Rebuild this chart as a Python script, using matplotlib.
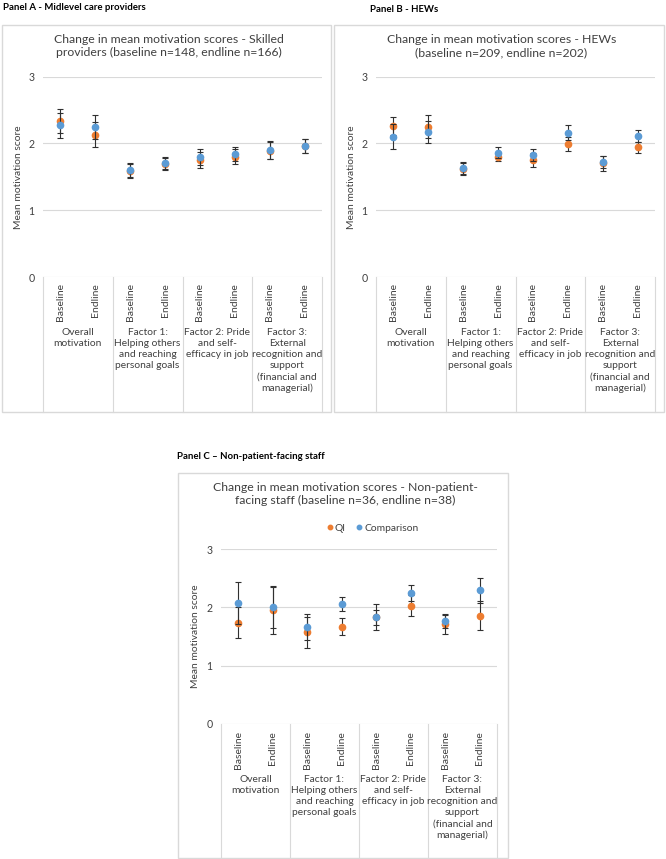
import numpy as np
import matplotlib
matplotlib.use("Agg")
import matplotlib.pyplot as plt
from matplotlib.patches import Rectangle
from matplotlib.lines import Line2D
from matplotlib.transforms import blended_transform_factory

plt.rcParams["font.family"] = ["Lato", "DejaVu Sans"]

W, H = 666, 859

timepoints = ["Baseline", "Endline"] * 4
groups = ["Overall\nmotivation",
          "Factor 1:\nHelping others\nand reaching\npersonal goals",
          "Factor 2: Pride\nand self-\nefficacy in job",
          "Factor 3:\nExternal\nrecognition and\nsupport\n(financial and\nmanagerial)"]

# Panel A - skilled providers
qi_a = [2.33, 2.13, 1.59, 1.69, 1.75, 1.80, 1.89, 1.96]
qi_a_err = [0.18, 0.19, 0.10, 0.09, 0.12, 0.11, 0.13, 0.11]
comp_a = [2.27, 2.24, 1.60, 1.71, 1.79, 1.84, 1.90, 1.96]
comp_a_err = [0.19, 0.18, 0.10, 0.09, 0.12, 0.11, 0.14, 0.11]

# Panel B - HEWs
qi_b = [2.26, 2.25, 1.62, 1.80, 1.75, 1.99, 1.70, 1.94]
qi_b_err = [0.14, 0.17, 0.09, 0.07, 0.10, 0.10, 0.11, 0.08]
comp_b = [2.10, 2.17, 1.63, 1.86, 1.82, 2.16, 1.72, 2.11]
comp_b_err = [0.19, 0.17, 0.09, 0.08, 0.09, 0.11, 0.09, 0.09]

# Panel C - non-patient-facing staff
qi_c = [1.74, 1.95, 1.57, 1.67, 1.83, 2.03, 1.71, 1.86]
qi_c_err = [0.27, 0.40, 0.26, 0.14, 0.22, 0.18, 0.16, 0.25]
comp_c = [2.07, 2.00, 1.66, 2.05, 1.83, 2.25, 1.77, 2.29]
comp_c_err = [0.36, 0.36, 0.22, 0.12, 0.13, 0.14, 0.12, 0.22]

ORANGE = "#ED7D31"
BLUE = "#5B9BD5"
GRID = "#D9D9D9"
TXT = "#404040"

fig = plt.figure(figsize=(W / 100, H / 100), dpi=100)
fig.patch.set_facecolor("white")


def fy(py):
    return 1 - py / H


def box(x0, y0, x1, y1):
    fig.patches.append(Rectangle((x0 / W, fy(y1)), (x1 - x0) / W, (y1 - y0) / H,
                                 transform=fig.transFigure, fill=False,
                                 edgecolor=GRID, lw=1.0))


def panel(left, right, top, bottom, title, title_y, qi, qi_err, comp, comp_err,
          tick_top, grp_top, sep_bottom, ylab_x, legend_y=None):
    ax = fig.add_axes([left / W, fy(bottom), (right - left) / W, (bottom - top) / H])
    x = np.arange(len(qi))
    ax.errorbar(x, qi, yerr=qi_err, fmt="o", color=ORANGE, ms=4.5, ecolor="#303030",
                elinewidth=0.8, capsize=2, capthick=0.8, zorder=3)
    ax.errorbar(x, comp, yerr=comp_err, fmt="o", color=BLUE, ms=4.5, ecolor="#303030",
                elinewidth=0.8, capsize=2, capthick=0.8, zorder=4)
    ax.set_xlim(-0.5, 7.5)
    ax.set_ylim(0, 3)
    ax.set_yticks([0, 1, 2, 3])
    ax.set_xticks([])
    for s in ax.spines.values():
        s.set_visible(False)
    for v in [1, 2, 3]:
        ax.axhline(v, color=GRID, lw=0.8, zorder=1)
    ax.axhline(0, color=GRID, lw=0.8, zorder=1)
    ax.tick_params(axis="y", length=0, pad=6, labelsize=7.6, labelcolor=TXT)
    ax.set_facecolor("none")

    tr = blended_transform_factory(ax.transData, fig.transFigure)
    for xs in [-0.5, 1.5, 3.5, 5.5, 7.5]:
        ax.plot([xs, xs], [fy(bottom), fy(sep_bottom)], transform=tr, color=GRID,
                lw=0.8, clip_on=False)
    for i, lab in enumerate(timepoints):
        ax.text(i, fy(tick_top), lab, transform=tr, rotation=90, ha="center",
                va="top", fontsize=7.5, color=TXT)
    for g, lab in enumerate(groups):
        ax.text(2 * g + 0.5, fy(grp_top), lab, transform=tr, ha="center", va="top",
                fontsize=7.4, color=TXT, linespacing=1.3)

    cx = (left + right) / 2 - 14
    fig.text(cx / W, fy(title_y), title, ha="center", va="top", fontsize=8.8,
             color=TXT, linespacing=1.22)
    fig.text(ylab_x / W, fy((top + bottom) / 2), "Mean motivation score", rotation=90,
             ha="center", va="center", fontsize=7.4, color=TXT)
    if legend_y is not None:
        handles = [Line2D([], [], ls="none", marker="o", ms=3.2, color=ORANGE),
                   Line2D([], [], ls="none", marker="o", ms=3.2, color=BLUE)]
        ax.legend(handles, ["QI", "Comparison"], loc="center",
                  bbox_to_anchor=(372 / W, fy(legend_y)),
                  bbox_transform=fig.transFigure, ncol=2, frameon=False,
                  fontsize=7.4, handletextpad=0.1, columnspacing=0.9,
                  labelcolor=TXT, handlelength=0.8)
    return ax


# panel frames
box(2, 25, 331, 412)
box(334, 25, 664, 412)
box(178, 473, 508, 858)

fig.text(3 / W, fy(3), "Panel A - Midlevel care providers", ha="left", va="top",
         fontsize=6.9, fontweight="bold")
fig.text(370 / W, fy(5), "Panel B - HEWs", ha="left", va="top",
         fontsize=6.9, fontweight="bold")
fig.text(177 / W, fy(452), "Panel C \u2013 Non-patient-facing staff", ha="left", va="top",
         fontsize=6.9, fontweight="bold")

panel(43, 322, 76.7, 277,
      "Change in mean motivation scores - Skilled\nproviders (baseline n=148, endline n=166)",
      34, qi_a, qi_a_err, comp_a, comp_a_err, 283, 328, 412, 19)
panel(376, 655, 76.7, 277,
      "Change in mean motivation scores - HEWs\n(baseline n=209, endline n=202)",
      34, qi_b, qi_b_err, comp_b, comp_b_err, 283, 328, 412, 352)
panel(221, 497, 549, 724,
      "Change in mean motivation scores - Non-patient-\nfacing staff (baseline n=36, endline n=38)",
      482, qi_c, qi_c_err, comp_c, comp_c_err, 731, 775, 858, 196, legend_y=528)

fig.savefig("out.png", dpi=100)
